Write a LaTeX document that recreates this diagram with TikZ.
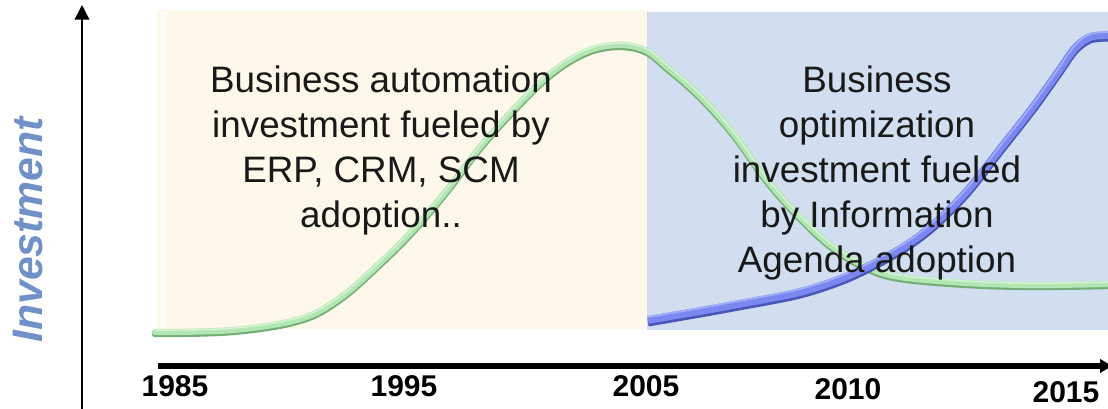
\documentclass[tikz,border=0pt]{standalone}
\usepackage{fontspec}
\setmainfont{Liberation Sans}
\usetikzlibrary{arrows.meta}
\definecolor{creamfill}{HTML}{FDF8E9}
\definecolor{bluefill}{HTML}{D0DEF0}
\definecolor{greenmain}{HTML}{B2E6B2}
\definecolor{greendark}{HTML}{74AE76}
\definecolor{greenlight}{HTML}{D4F4D4}
\definecolor{bluemain}{HTML}{7A88F0}
\definecolor{bluedark}{HTML}{4A55B8}
\definecolor{bluelight}{HTML}{A4AEF8}
\definecolor{labelblue}{HTML}{7090C8}
\tikzset{
  bodytext/.style={align=center, text=black!90, font=\fontsize{27.6pt}{33.75pt}\selectfont},
  yearlabel/.style={anchor=base, font=\bfseries\fontsize{22.5pt}{26pt}\selectfont},
  axislabel/.style={rotate=90, text=labelblue, font=\bfseries\itshape\fontsize{32pt}{36pt}\selectfont},
}
\begin{document}
\begin{tikzpicture}[x=0.75pt,y=-0.75pt]
\useasboundingbox (0,0) rectangle (1108,409);
% background panels
\fill[creamfill] (157,10) rectangle (647,329);
\fill[white,opacity=0.7] (159.5,12) rectangle (166,329);
\fill[bluefill] (647,12) rectangle (1108,330);
% green curve
\def\greenpts{(155,332) (233,330) (300,319) (340,298) (380,263) (413,230) (447,190) (480,147) (513,110) (550,74) (585,52) (617,45) (645,50) (667,67) (700,96) (733,133) (767,180) (800,217) (833,247) (867,267) (900,277) (967,283) (1033,285) (1108,284)}
\begin{scope}[yshift=-1.6pt]
\draw[greendark, line width=4.6pt, line cap=round] plot[smooth, tension=0.6] coordinates {\greenpts};
\end{scope}
\draw[greenmain, line width=4.6pt, line cap=round] plot[smooth, tension=0.6] coordinates {\greenpts};
\begin{scope}[yshift=1.4pt]
\draw[greenlight, line width=1.1pt] plot[smooth, tension=0.6] coordinates {\greenpts};
\end{scope}
% blue curve
\def\bluepts{(648,320) (700,311) (733,305) (800,292) (850,275) (900,249) (933,225) (967,191) (1000,149) (1033,107) (1058,72) (1075,48) (1090,37) (1108,35)}
\begin{scope}[yshift=-2pt]
\draw[bluedark, line width=5.8pt] plot[smooth, tension=0.5] coordinates {\bluepts};
\end{scope}
\draw[bluemain, line width=5.8pt] plot[smooth, tension=0.5] coordinates {\bluepts};
\begin{scope}[yshift=2.2pt]
\draw[bluelight, line width=1.3pt] plot[smooth, tension=0.5] coordinates {\bluepts};
\end{scope}
% texts
\node[bodytext] (left) at (381,150) {Business automation\\investment fueled by\\ERP, CRM, SCM\\adoption..};
\node[bodytext] (right) at (877,173) {Business\\optimization\\investment fueled\\by Information\\Agenda adoption};
% axes
\coordinate (yb) at (82,409);
\coordinate (yt) at (82,5);
\draw[line width=1.1pt, -{Triangle[length=11pt,width=11pt]}] (yb) -- (yt);
\coordinate (xl) at (158,366);
\coordinate (xr) at (1112,366);
\draw[line width=3.8pt, -{Triangle[length=9pt,width=10pt]}] (xl) -- (xr);
\node[axislabel] (inv) at (28,230) {Investment};
% years
\node[yearlabel] (y85) at (175,397) {1985};
\node[yearlabel] (y95) at (404,397) {1995};
\node[yearlabel] (y05) at (646,397) {2005};
\node[yearlabel] (y10) at (848,400) {2010};
\node[yearlabel] (y15) at (1066,403) {2015};
\end{tikzpicture}
\end{document}
